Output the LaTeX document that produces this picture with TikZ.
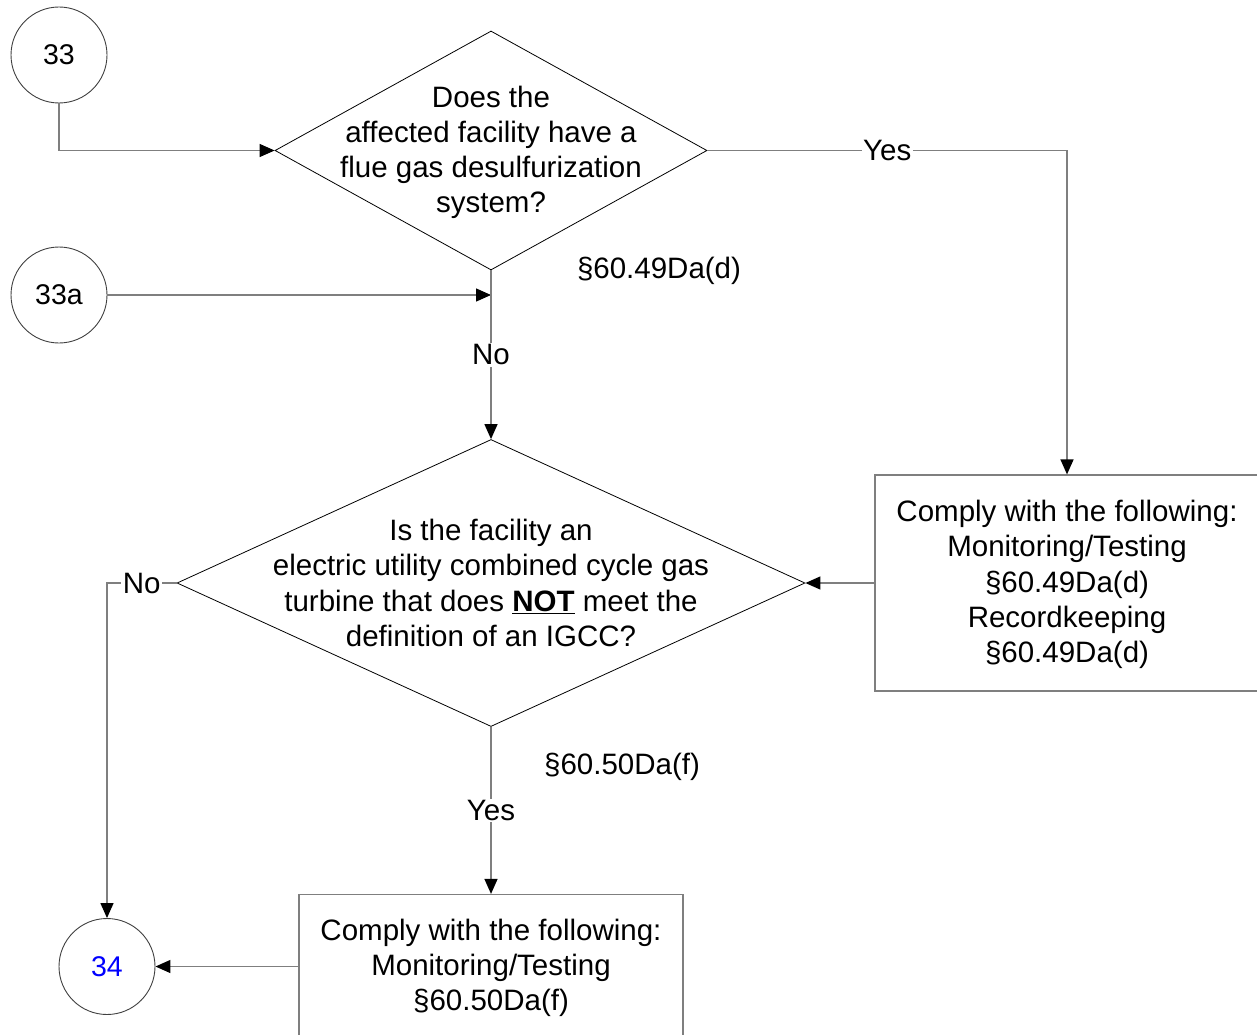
\documentclass[tikz,border=0pt]{standalone}
\usepackage{fontspec}
\setmainfont{Liberation Sans}
\usetikzlibrary{shapes.geometric,arrows.meta}
\definecolor{linegray}{HTML}{7F7F7F}
\definecolor{circgray}{HTML}{404040}
\definecolor{numblue}{HTML}{0000FF}
\begin{document}
\begin{tikzpicture}[x=1pt,y=-1pt,
  every node/.style={font=\fontsize{29.5}{35.2}\selectfont},
  conn/.style={draw=linegray,line width=1.3pt,-{Triangle[length=15pt,width=13pt,color=black]}},
  dia/.style={shape=diamond,draw=black,line width=0.8pt,inner sep=0pt},
  circ/.style={shape=circle,draw=circgray,line width=0.9pt,minimum size=96pt,inner sep=0pt,font=\fontsize{28.5}{34}\selectfont},
  boxn/.style={shape=rectangle,draw=linegray,line width=1.2pt,inner sep=0pt,align=center},
  txt/.style={align=center,inner sep=0pt},
  lab/.style={fill=white,inner sep=1.5pt}]
\clip (0,0) rectangle (1257,1035);
% nodes
\node[circ] (c33) at (59,55) {33};
\node[circ] (c33a) at (59,295) {33a};
\node[circ,text=numblue] (c34) at (107,966.5) {34};
\node[dia,minimum width=432pt,minimum height=239pt] (d1) at (491,150.5) {};
\node[txt] (t1) at (491,152.5) {Does the\\affected facility have a\\flue gas desulfurization\\system?};
\node[dia,minimum width=628pt,minimum height=287pt] (d2) at (491,583) {};
\node[txt] (t2) at (491,583) {Is the facility an\\electric utility combined cycle gas\\turbine that does \underline{\textbf{NOT}} meet the\\definition of an IGCC?};
\node[boxn,minimum width=384pt,minimum height=216pt] (b1) at (1067,583) {};
\node[txt] (t3) at (1067,584.5) {Comply with the following:\\Monitoring/Testing\\§60.49Da(d)\\Recordkeeping\\§60.49Da(d)};
\node[boxn,minimum width=384pt,minimum height=144pt] (b3) at (491,966.5) {};
\node[txt] (t4) at (491,968) {Comply with the following:\\Monitoring/Testing\\§60.50Da(f)};
\node[txt] (s1) at (659,271) {§60.49Da(d)};
\node[txt] (s2) at (622,767) {§60.50Da(f)};
\coordinate (k1) at (b1.north |- d1.east);
\coordinate (k2) at (c34.north |- d2.west);
\coordinate (j1) at (d1.south |- c33a.east);
% connectors
\draw[conn] (c33.south) |- (d1.west);
\draw[conn] (c33a.east) -- (j1);
\draw[conn] (d1.south) -- node[lab] (n1) {No} (d2.north);
\draw[conn] (d1.east) -- node[lab] (y1) {Yes} (k1) -- (b1.north);
\draw[conn] (b1.west) -- (d2.east);
\draw[conn] (d2.west) -- node[lab] (n2) {No} (k2) -- (c34.north);
\draw[conn] (d2.south) -- node[lab] (y2) {Yes} (b3.north);
\draw[conn] (b3.west) -- (c34.east);
\end{tikzpicture}
\end{document}
